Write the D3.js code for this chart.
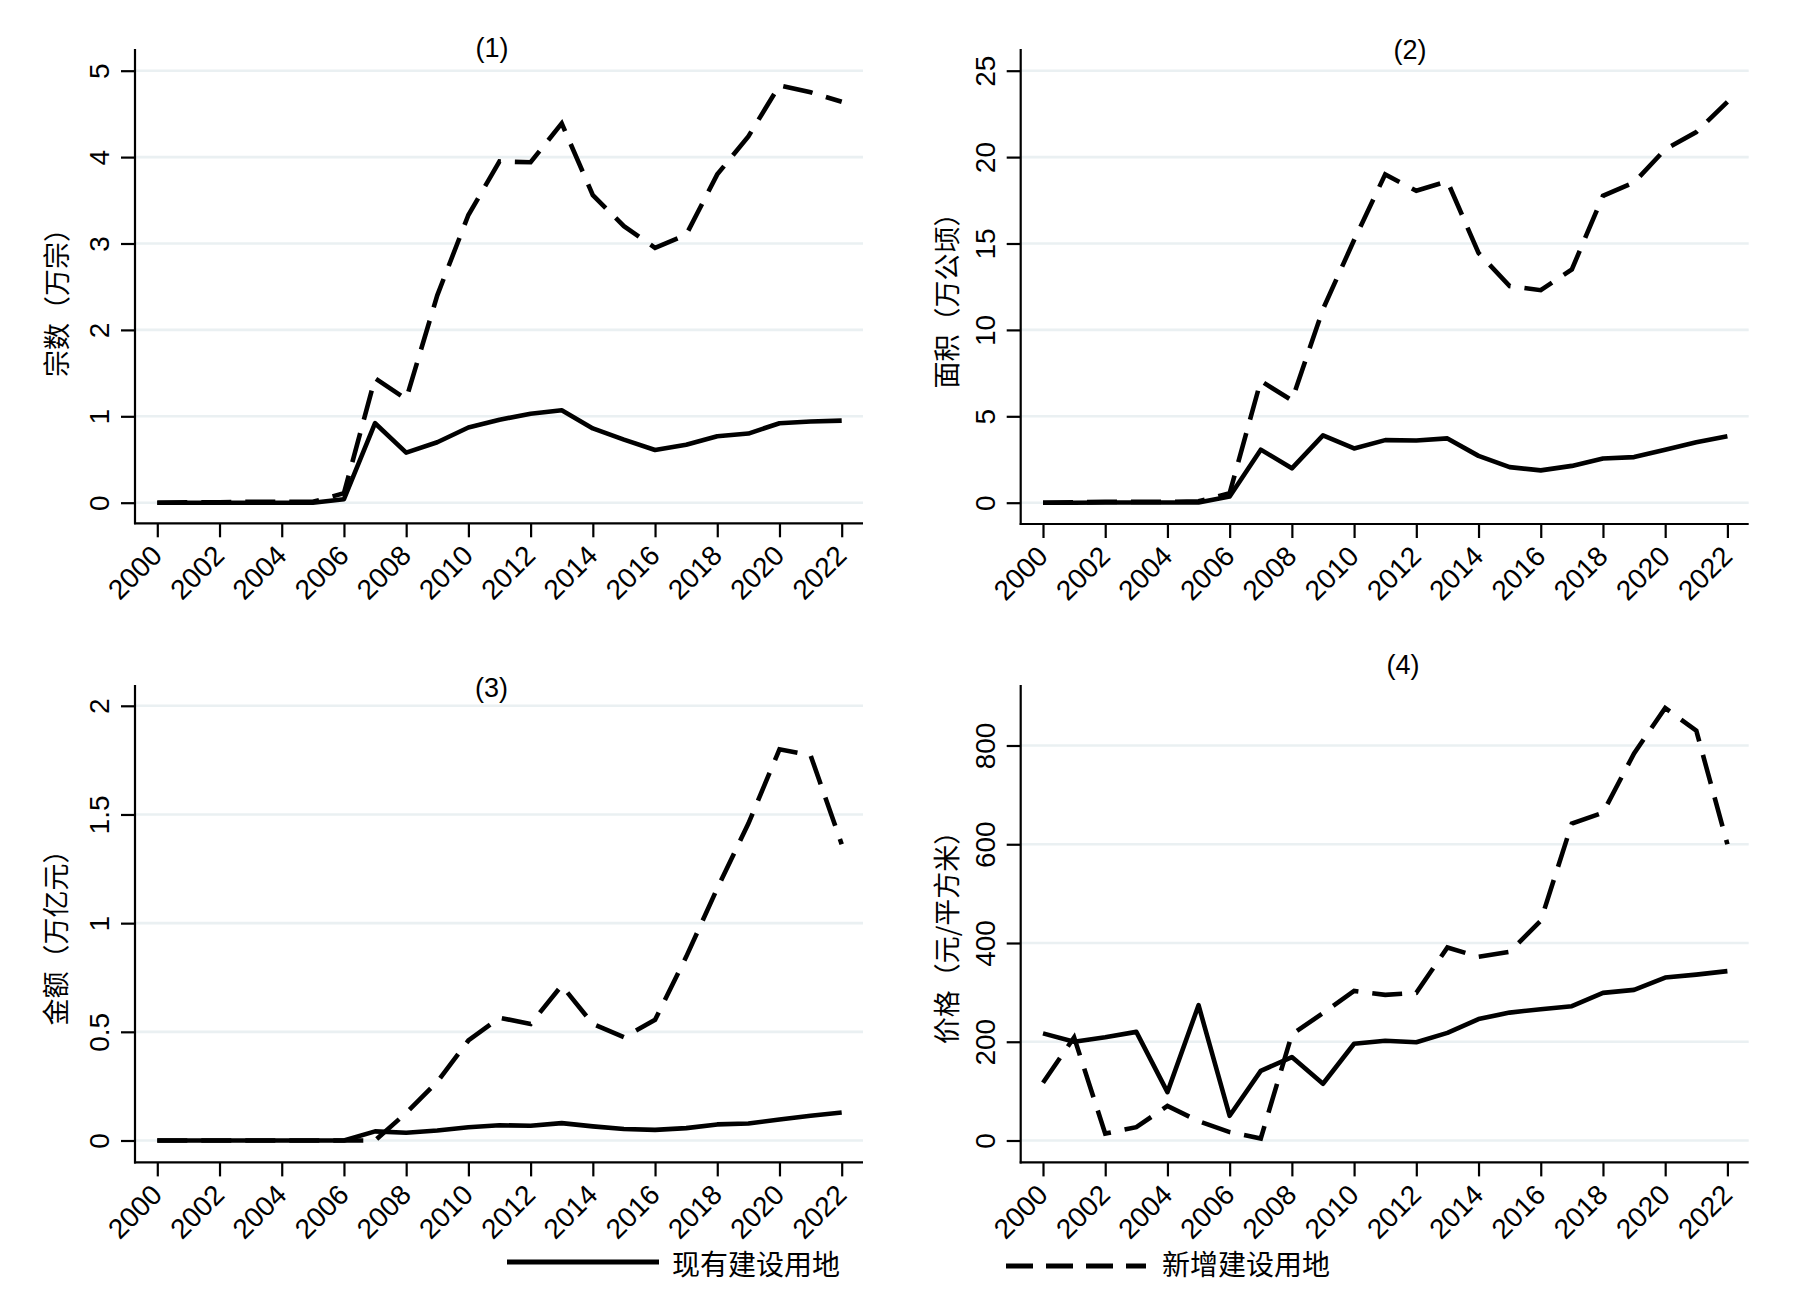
<!DOCTYPE html>
<html>
<head>
<meta charset="utf-8">
<script src="https://cdnjs.cloudflare.com/ajax/libs/d3/7.8.5/d3.min.js"></script>
<style>
  body { margin: 0; background: #fff; }
  text { font-family: "Liberation Sans", Arial, sans-serif; fill: #000; }
  .cjk { font-family: "Noto Sans CJK SC", sans-serif; }
</style>
</head>
<body>
<svg id="chart" width="1804" height="1295"></svg>
<script>
// years on the x axis
var years = d3.range(2000, 2023);
var yearTicks = d3.range(2000, 2023, 2);

// (1) 宗数 (万宗)
var countExisting = [0, 0, 0, 0, 0, 0, 0.04, 0.92, 0.58, 0.7, 0.87, 0.96, 1.03, 1.07, 0.86, 0.73, 0.61, 0.67, 0.77, 0.8, 0.92, 0.94, 0.95];
var countNew = [0, 0.005, 0.005, 0.01, 0.01, 0.01, 0.11, 1.44, 1.2, 2.4, 3.33, 3.95, 3.94, 4.39, 3.56, 3.2, 2.95, 3.1, 3.8, 4.24, 4.83, 4.75, 4.64];
var countTicks = [0, 1, 2, 3, 4, 5];

// (2) 面积 (万公顷)
var areaExisting = [0, 0, 0.01, 0.01, 0.01, 0.01, 0.36, 3.07, 1.99, 3.9, 3.14, 3.62, 3.6, 3.72, 2.71, 2.06, 1.87, 2.13, 2.56, 2.64, 3.07, 3.5, 3.84];
var areaNew = [0, 0.02, 0.05, 0.05, 0.05, 0.08, 0.55, 7.05, 5.92, 11.2, 15.2, 19.0, 18.05, 18.6, 14.45, 12.54, 12.3, 13.5, 17.76, 18.53, 20.45, 21.45, 23.2];
var areaTicks = [0, 5, 10, 15, 20, 25];

// (3) 金额 (万亿元)
var valueExisting = [0, 0, 0, 0, 0, 0, 0, 0.042, 0.036, 0.046, 0.061, 0.07, 0.068, 0.08, 0.065, 0.053, 0.049, 0.057, 0.074, 0.078, 0.097, 0.114, 0.129];
var valueNew = [0, 0, 0, 0, 0, 0, 0, 0, 0.127, 0.27, 0.46, 0.565, 0.536, 0.713, 0.536, 0.475, 0.555, 0.845, 1.16, 1.458, 1.8, 1.772, 1.363];
var valueTicks = [0, 0.5, 1, 1.5, 2];

// (4) 价格 (元/平方米)
var priceExisting = [217, 200, 209, 220, 98, 274, 50, 141, 169, 115, 196, 202, 199, 218, 246, 259, 266, 272, 299, 305, 330, 336, 343];
var priceNew = [117, 209, 14, 27, 70, 39, 17, 4, 215, 258, 303, 295, 299, 391, 372, 382, 445, 642, 664, 784, 876, 830, 600];
var priceTicks = [0, 200, 400, 600, 800];

var legendNames = ["现有建设用地", "新增建设用地"];
var dashPattern = "30,14";

var svg = d3.select("#chart");
svg.append("rect").attr("width", 1804).attr("height", 1295).attr("fill", "#fff");

// one panel of the combined graph
function drawPanel(p) {
  var g = svg.append("g");
  var x = d3.scaleLinear().domain([2000, 2022]).range([p.left + 22.3, p.left + 706.7]);
  var y = d3.scaleLinear().domain([p.ticks[0], p.ticks[p.ticks.length - 1]]).range([p.bottom0, p.topTick]);

  // gridlines
  g.selectAll(".grid").data(p.ticks).enter().append("line")
    .attr("x1", p.left).attr("x2", p.left + 728)
    .attr("y1", function(d){ return y(d); }).attr("y2", function(d){ return y(d); })
    .attr("stroke", "#eaf0f2").attr("stroke-width", 2.6);

  // y axis
  var ya = g.append("g").attr("transform", "translate(" + p.left + ",0)")
    .call(d3.axisLeft(y).tickValues(p.ticks).tickSize(14).tickPadding(0).tickFormat(d3.format("")));
  ya.select(".domain").remove();
  ya.selectAll(".tick line").attr("stroke", "#000").attr("stroke-width", 2.2);
  ya.selectAll(".tick text")
    .attr("x", 0).attr("dy", null)
    .attr("transform", "translate(-26,0) rotate(-90)")
    .attr("text-anchor", "middle")
    .style("font-size", "28px");
  g.append("line").attr("x1", p.left).attr("x2", p.left)
    .attr("y1", p.axisTop).attr("y2", p.axisBottom + 1)
    .attr("stroke", "#000").attr("stroke-width", 2.2);

  // x axis
  var xa = g.append("g").attr("transform", "translate(0," + p.axisBottom + ")")
    .call(d3.axisBottom(x).tickValues(yearTicks).tickSize(14).tickFormat(d3.format("d")));
  xa.select(".domain").remove();
  xa.selectAll(".tick line").attr("stroke", "#000").attr("stroke-width", 2.2);
  xa.selectAll(".tick text")
    .attr("y", 0).attr("dy", null)
    .attr("transform", "translate(6,34) rotate(-45)")
    .attr("text-anchor", "end")
    .style("font-size", "28px");
  g.append("line").attr("x1", p.left - 1).attr("x2", p.left + 728)
    .attr("y1", p.axisBottom).attr("y2", p.axisBottom)
    .attr("stroke", "#000").attr("stroke-width", 2.2);

  var line = d3.line().x(function(d, i){ return x(years[i]); }).y(function(d){ return y(d); });
  g.append("path").attr("d", line(p.existing))
    .attr("fill", "none").attr("stroke", "#000").attr("stroke-width", 4.6)
    .attr("stroke-linejoin", "round");
  g.append("path").attr("d", line(p.added))
    .attr("fill", "none").attr("stroke", "#000").attr("stroke-width", 4.6)
    .attr("stroke-dasharray", dashPattern);

  // y axis title
  g.append("text").attr("class", "cjk")
    .attr("transform", "translate(" + p.titleX + "," + p.titleY + ") rotate(-90)")
    .attr("text-anchor", "middle").attr("dominant-baseline", "central")
    .style("font-size", "27px").text(p.yTitle);

  // panel title
  g.append("text")
    .attr("x", p.headX).attr("y", p.headY)
    .attr("text-anchor", "middle").attr("dominant-baseline", "central")
    .style("font-size", "27px").text(p.head);
}

drawPanel({ left: 135, axisTop: 49, axisBottom: 523.3, bottom0: 502.7, topTick: 70.7,
  ticks: countTicks, existing: countExisting, added: countNew,
  yTitle: "宗数（万宗）", titleX: 55, titleY: 296, head: "(1)", headX: 492, headY: 48 });
drawPanel({ left: 1020.7, axisTop: 49, axisBottom: 524, bottom0: 502.7, topTick: 70.7,
  ticks: areaTicks, existing: areaExisting, added: areaNew,
  yTitle: "面积（万公顷）", titleX: 945, titleY: 294, head: "(2)", headX: 1410, headY: 50 });
drawPanel({ left: 135, axisTop: 685, axisBottom: 1162.4, bottom0: 1140.5, topTick: 705.8,
  ticks: valueTicks, existing: valueExisting, added: valueNew,
  yTitle: "金额（万亿元）", titleX: 54, titleY: 931, head: "(3)", headX: 491.6, headY: 688 });
drawPanel({ left: 1020.7, axisTop: 685, axisBottom: 1162.4, bottom0: 1140.5, topTick: 745.5,
  ticks: priceTicks, existing: priceExisting, added: priceNew,
  yTitle: "价格（元/平方米）", titleX: 945, titleY: 931, head: "(4)", headX: 1403, headY: 665 });

// legend
var lg = svg.append("g");
lg.append("line").attr("x1", 507).attr("x2", 659).attr("y1", 1262).attr("y2", 1262)
  .attr("stroke", "#000").attr("stroke-width", 5);
lg.append("text").attr("class", "cjk").attr("x", 672).attr("y", 1263)
  .attr("dominant-baseline", "central").style("font-size", "28px").text(legendNames[0]);
lg.append("line").attr("x1", 1006).attr("x2", 1146).attr("y1", 1266).attr("y2", 1266)
  .attr("stroke", "#000").attr("stroke-width", 5).attr("stroke-dasharray", "27,13");
lg.append("text").attr("class", "cjk").attr("x", 1162).attr("y", 1263)
  .attr("dominant-baseline", "central").style("font-size", "28px").text(legendNames[1]);
</script>
</body>
</html>
